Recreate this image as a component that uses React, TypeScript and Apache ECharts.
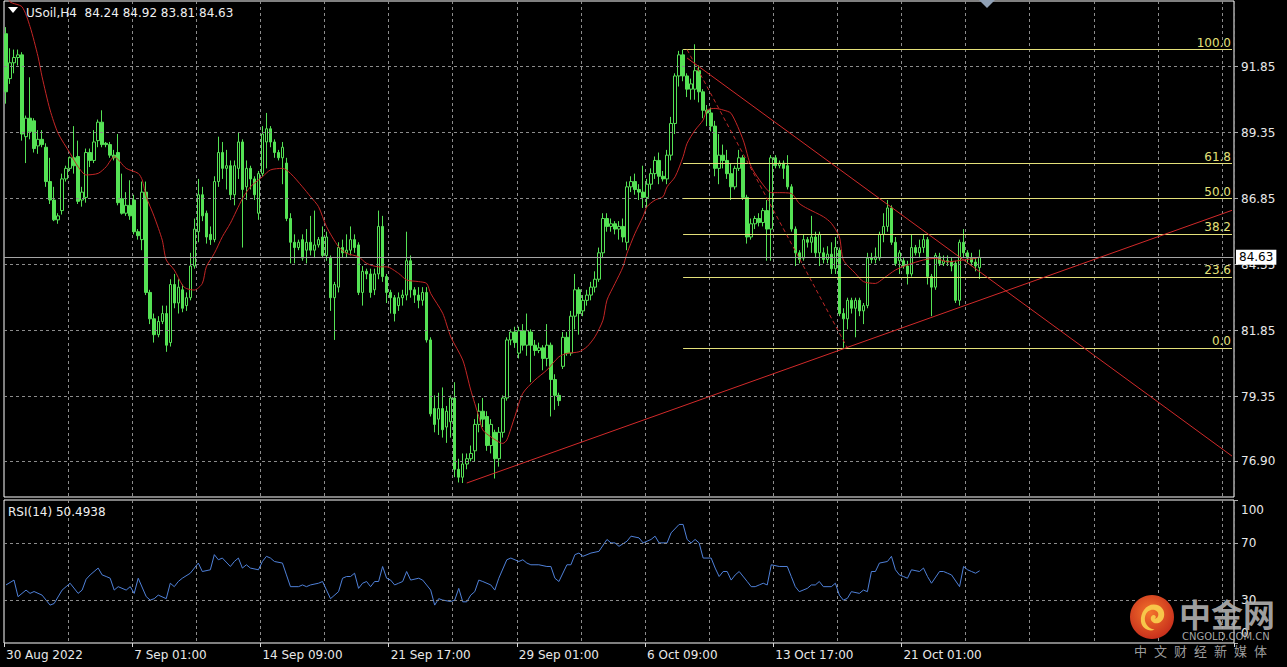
import React, { useEffect, useRef } from "react";
import * as echarts from "echarts";

// ---------- texts ----------
const SYMBOL_TITLE = "USoil,H4  84.24 84.92 83.81 84.63";
const RSI_TITLE = "RSI(14) 50.4938";

// ---------- price bars: [open, high, low, close] ----------
const CANDLES_OHLC: [number, number, number, number][] = [
  [93.1, 93.35, 90.45, 90.9], [91.4, 92.55, 91.2, 92.0], [92.0, 92.5, 91.6, 92.2], [92.2, 92.5, 91.9, 92.3],
  [92.3, 92.4, 89.05, 89.3], [89.2, 90.0, 88.2, 89.9], [89.9, 91.45, 89.1, 89.4], [89.8, 89.9, 88.6, 88.75],
  [88.85, 89.45, 88.55, 89.1], [89.1, 89.45, 88.8, 88.9], [88.8, 88.95, 87.3, 87.5], [87.5, 88.4, 86.65, 86.8],
  [86.8, 87.3, 86.0, 86.05], [86.05, 86.3, 85.9, 86.2], [86.4, 87.8, 86.25, 87.6], [87.6, 88.1, 87.5, 88.0],
  [88.0, 88.45, 87.9, 88.4], [88.4, 89.6, 87.8, 88.1], [88.45, 89.05, 86.65, 86.75], [86.8, 87.3, 86.55, 87.1],
  [86.9, 88.75, 86.7, 88.6], [88.6, 88.75, 88.05, 88.3], [88.3, 89.45, 88.2, 89.0], [89.05, 89.85, 88.8, 89.75],
  [89.75, 90.2, 88.8, 88.9], [88.95, 89.0, 88.8, 88.9], [88.9, 89.0, 88.4, 88.5], [88.5, 88.7, 88.3, 88.4],
  [88.6, 89.3, 86.6, 86.7], [86.85, 87.8, 86.25, 86.3], [86.3, 87.1, 86.2, 86.6], [86.6, 87.55, 86.05, 86.2],
  [86.8, 87.0, 85.5, 85.6], [85.6, 85.7, 85.3, 85.45], [85.3, 87.5, 84.9, 87.1], [87.1, 87.5, 83.2, 83.3],
  [83.3, 83.4, 82.1, 82.3], [82.3, 82.5, 81.4, 81.7], [81.7, 82.4, 81.6, 82.2], [82.2, 82.8, 82.1, 82.5],
  [82.5, 82.8, 81.05, 81.3], [81.4, 83.8, 81.25, 83.6], [83.6, 84.0, 82.7, 82.9], [82.9, 83.8, 82.5, 83.5],
  [83.4, 83.6, 82.55, 82.7], [82.8, 83.3, 82.6, 83.1], [83.1, 84.8, 83.0, 84.3], [84.3, 86.1, 84.2, 85.7],
  [85.6, 87.6, 85.2, 87.0], [87.0, 87.3, 86.0, 86.2], [86.3, 86.4, 85.15, 85.4], [85.5, 85.8, 85.1, 85.3],
  [85.3, 87.7, 85.2, 87.5], [87.5, 89.2, 87.3, 88.6], [88.6, 89.0, 87.6, 88.0], [88.0, 88.7, 87.2, 88.1],
  [88.1, 88.3, 86.8, 87.0], [87.0, 88.3, 86.6, 88.1], [88.0, 89.35, 87.6, 89.0], [89.0, 89.1, 85.0, 87.2],
  [87.3, 88.3, 86.8, 88.0], [88.0, 88.1, 87.2, 87.6], [87.6, 87.7, 86.8, 87.0], [86.3, 87.9, 86.05, 87.8],
  [87.8, 89.6, 87.7, 89.3], [89.0, 90.1, 88.0, 89.5], [89.5, 89.6, 88.8, 89.0], [89.0, 89.1, 88.4, 88.6],
  [88.6, 88.7, 88.3, 88.4], [88.4, 89.0, 87.4, 88.8], [88.2, 88.4, 86.0, 86.1], [86.1, 86.3, 84.4, 85.2],
  [85.2, 85.5, 84.4, 85.0], [85.0, 85.3, 84.9, 85.2], [85.3, 85.5, 84.5, 84.6], [84.9, 85.7, 84.4, 85.2],
  [85.2, 86.2, 84.7, 84.9], [84.9, 86.4, 84.6, 85.1], [85.1, 85.4, 85.0, 85.3], [85.4, 85.8, 84.6, 84.7],
  [84.7, 85.6, 84.5, 85.4], [84.6, 84.7, 82.6, 83.1], [83.1, 83.7, 81.5, 83.6], [83.5, 85.2, 83.3, 85.0],
  [85.0, 85.3, 84.6, 84.8], [84.8, 85.5, 84.6, 84.9], [84.9, 85.8, 84.7, 85.3], [85.3, 85.5, 84.8, 85.0],
  [85.1, 85.2, 83.2, 83.3], [83.3, 84.3, 82.8, 84.1], [84.1, 84.2, 83.8, 84.0], [84.0, 84.2, 83.1, 83.3],
  [83.4, 84.2, 83.2, 84.0], [84.0, 86.4, 83.8, 85.8], [85.8, 86.2, 83.7, 83.9], [83.9, 84.0, 82.9, 83.3],
  [83.3, 83.4, 82.5, 83.1], [83.1, 83.2, 82.2, 82.5], [82.8, 83.3, 82.6, 83.1], [83.1, 83.4, 82.8, 83.2],
  [83.2, 85.6, 83.0, 84.5], [84.5, 84.7, 83.1, 83.4], [83.4, 83.5, 82.9, 83.2], [83.2, 83.5, 82.7, 83.0],
  [83.0, 83.5, 82.8, 83.3], [83.3, 83.5, 81.4, 81.5], [81.5, 81.6, 78.6, 78.7], [78.9, 79.4, 78.0, 78.3],
  [78.5, 79.5, 77.9, 78.9], [78.9, 79.7, 77.8, 78.1], [78.2, 79.0, 77.6, 78.8], [78.4, 79.4, 77.8, 79.3],
  [79.3, 79.9, 76.3, 76.6], [76.6, 77.0, 76.1, 76.3], [76.3, 77.2, 76.08, 76.8], [76.8, 77.2, 76.6, 77.0],
  [77.0, 77.5, 76.9, 77.2], [77.3, 78.5, 76.9, 78.3], [78.3, 79.1, 78.0, 78.8], [78.8, 79.3, 78.2, 78.5],
  [78.6, 78.8, 77.3, 77.5], [77.5, 78.5, 77.2, 78.3], [78.0, 78.1, 76.25, 77.0], [77.0, 78.2, 76.7, 78.0],
  [78.0, 79.4, 77.8, 79.3], [79.3, 81.6, 79.2, 81.5], [81.5, 81.9, 81.3, 81.8], [81.8, 82.0, 81.2, 81.4],
  [81.0, 82.0, 80.8, 81.85], [81.85, 82.1, 81.1, 81.3], [81.3, 82.5, 80.9, 81.85], [81.8, 81.9, 79.9, 81.3],
  [81.3, 81.5, 80.9, 81.1], [81.1, 81.4, 81.0, 81.2], [81.2, 81.3, 80.35, 80.8], [80.8, 82.1, 80.5, 81.3],
  [81.3, 81.4, 78.6, 80.0], [80.0, 80.2, 78.85, 79.4], [79.4, 79.5, 79.0, 79.2], [80.5, 81.8, 80.4, 81.6],
  [81.6, 81.8, 80.9, 81.0], [81.0, 82.6, 80.9, 82.4], [82.4, 84.0, 81.9, 83.4], [83.4, 83.5, 81.7, 82.5],
  [82.6, 83.2, 82.4, 83.0], [83.0, 83.4, 82.8, 83.2], [83.2, 83.7, 83.0, 83.5], [83.5, 84.1, 83.3, 83.8],
  [83.8, 85.0, 83.7, 84.8], [84.8, 86.3, 84.6, 86.1], [86.1, 86.3, 85.6, 85.8], [85.8, 86.1, 85.6, 85.9],
  [85.9, 86.0, 85.5, 85.7], [85.7, 86.0, 85.3, 85.8], [85.8, 86.1, 85.2, 85.4], [85.2, 87.5, 84.9, 87.3],
  [87.3, 87.7, 87.1, 87.5], [87.5, 87.8, 87.0, 87.2], [87.2, 87.4, 86.8, 87.1], [87.1, 88.1, 86.5, 86.9],
  [86.9, 87.6, 86.5, 87.4], [87.4, 88.0, 87.2, 87.8], [87.8, 88.45, 87.6, 88.3], [88.3, 88.6, 87.4, 87.7],
  [87.7, 87.9, 87.5, 87.6], [87.6, 88.7, 87.4, 88.5], [88.5, 89.95, 88.3, 89.7], [89.7, 91.6, 89.3, 91.5],
  [91.5, 92.45, 91.1, 92.3], [92.3, 92.5, 91.3, 91.5], [91.5, 91.6, 90.7, 91.0], [91.0, 91.4, 90.6, 91.2],
  [91.0, 92.7, 90.6, 91.7], [91.7, 91.9, 90.5, 90.9], [90.9, 91.0, 89.9, 90.2], [90.2, 90.4, 89.6, 90.1],
  [90.1, 90.3, 89.4, 89.6], [89.6, 89.8, 87.7, 88.0], [88.0, 89.3, 87.4, 88.5], [88.5, 88.9, 88.0, 88.3],
  [88.3, 88.7, 87.6, 87.8], [87.8, 88.2, 86.8, 87.3], [87.3, 88.1, 87.2, 88.0], [88.0, 88.7, 87.9, 88.4],
  [88.4, 88.5, 86.8, 86.9], [86.9, 87.0, 85.15, 85.4], [85.4, 86.1, 85.3, 85.9], [85.9, 86.2, 85.7, 86.1],
  [86.1, 86.3, 85.8, 85.95], [85.95, 86.5, 85.8, 86.4], [86.4, 86.8, 84.5, 85.7], [85.7, 88.5, 84.5, 88.4],
  [88.4, 88.5, 88.0, 88.1], [88.1, 88.3, 88.0, 88.2], [88.2, 88.3, 87.6, 88.0], [88.1, 88.5, 87.2, 87.3],
  [87.3, 87.4, 85.6, 85.7], [85.7, 85.8, 84.3, 84.8], [84.8, 84.9, 84.4, 84.55], [84.6, 85.5, 84.5, 85.3],
  [85.3, 85.4, 85.0, 85.2], [85.2, 86.2, 84.8, 85.4], [85.4, 85.6, 84.6, 84.8], [84.8, 85.6, 84.3, 85.5],
  [84.8, 85.0, 84.4, 84.55], [84.55, 85.05, 84.4, 84.75], [84.75, 85.2, 84.0, 84.2], [84.2, 85.4, 84.0, 85.0],
  [84.9, 85.0, 82.4, 82.5], [82.5, 82.7, 81.2, 82.3], [82.3, 83.1, 81.9, 83.0], [83.0, 83.1, 82.5, 82.7],
  [82.7, 83.1, 81.6, 83.0], [83.0, 83.1, 82.4, 82.6], [82.6, 82.9, 82.1, 82.8], [82.8, 84.8, 82.7, 84.6],
  [84.6, 84.8, 84.4, 84.55], [84.55, 85.0, 84.4, 84.65], [84.6, 85.6, 84.5, 85.5], [85.5, 86.3, 85.2, 85.8],
  [85.8, 86.8, 85.6, 86.5], [86.5, 86.6, 85.1, 85.2], [85.2, 85.4, 84.3, 84.4], [84.5, 84.9, 84.0, 84.8],
  [84.5, 84.6, 84.2, 84.3], [84.3, 84.5, 83.6, 84.0], [84.0, 85.5, 83.9, 85.0], [85.0, 85.1, 84.7, 84.8],
  [84.8, 85.3, 84.6, 85.0], [85.0, 85.5, 84.8, 85.3], [85.3, 85.4, 83.6, 83.9], [83.9, 84.0, 82.4, 83.5],
  [83.5, 84.8, 83.4, 84.7], [84.65, 84.8, 84.3, 84.4], [84.4, 84.7, 84.3, 84.5], [84.5, 84.7, 84.3, 84.45],
  [84.45, 84.6, 84.1, 84.3], [84.4, 84.5, 82.9, 83.0], [83.0, 85.3, 82.8, 85.2], [85.2, 85.7, 84.6, 84.8],
  [84.8, 84.9, 84.4, 84.6], [84.6, 84.8, 84.3, 84.45], [84.45, 84.6, 84.1, 84.3], [84.24, 84.92, 83.81, 84.63],
];

// moving average: [bar index, price]
const MA_POINTS: [number, number][] = [
  [0, 94.7], [1, 94.31], [4, 94.12], [6, 93.37], [8, 92.23], [9, 91.47], [11, 90.21], [13, 89.33],
  [16, 88.57], [18, 88.06], [20, 87.75], [23, 87.81], [25, 88.06], [27, 88.44], [30, 88.0], [33, 87.81],
  [34, 87.56], [35, 86.93], [37, 86.17], [39, 85.28], [40, 84.53], [42, 84.15], [44, 83.58], [45, 83.45],
  [47, 83.39], [49, 83.64], [50, 84.27], [52, 84.78], [54, 85.41], [56, 85.92], [59, 86.85], [61, 87.3],
  [64, 87.68], [66, 87.94], [69, 88.0], [71, 87.81], [74, 87.3], [76, 86.93], [78, 86.55], [80, 85.79],
  [83, 85.03], [85, 84.78], [88, 84.65], [90, 84.4], [93, 84.27], [95, 84.27], [98, 84.02], [100, 83.77],
  [103, 83.71], [105, 83.64], [106, 83.26], [109, 82.51], [111, 81.62], [114, 80.74], [116, 79.6], [118, 78.6],
  [119, 78.09], [121, 77.83], [124, 77.58], [125, 77.71], [127, 78.6], [129, 79.48], [132, 79.98], [135, 80.36],
  [138, 80.86], [140, 80.99], [143, 81.05], [145, 81.24], [147, 81.62], [149, 82.25], [150, 83.01], [152, 83.64],
  [154, 84.27], [155, 84.78], [157, 85.54], [159, 86.17], [160, 86.55], [162, 86.8], [164, 86.93], [165, 87.3],
  [167, 87.68], [169, 88.44], [170, 88.95], [172, 89.45], [174, 89.83], [175, 90.21], [177, 90.27], [179, 90.21],
  [181, 90.08], [184, 89.07], [186, 88.06], [189, 87.37], [191, 87.08], [193, 87.08], [196, 87.05], [198, 86.67],
  [200, 86.48], [204, 86.17], [206, 85.92], [208, 85.41], [209, 84.53], [212, 84.02], [214, 83.71], [217, 83.64],
  [219, 83.83], [222, 84.15], [225, 84.34], [229, 84.53], [232, 84.59], [235, 84.46], [239, 84.53], [242, 84.59],
  [243, 84.65],
];

// RSI(14): [bar index, value]
const RSI_POINTS: [number, number][] = [
  [0, 40.6], [2, 44], [3, 32.4], [5, 37], [6, 34.7], [7, 36], [9, 33.5], [10, 30], [11, 26.5], [12, 27.6],
  [14, 37], [15, 39.4], [16, 41.8], [18, 34.7], [19, 37], [20, 44.6], [21, 47.6], [23, 52.4], [24, 47.6],
  [25, 46.5], [26, 45.3], [27, 37], [28, 39.4], [30, 37], [31, 39.4], [32, 34.7], [33, 45.3], [35, 32.4],
  [36, 30], [37, 31], [38, 33.5], [40, 31], [41, 41.8], [42, 39.4], [43, 43], [44, 45.3], [46, 48.8],
  [48, 55.9], [49, 50], [51, 51.2], [52, 61.8], [53, 58.2], [54, 59.4], [56, 53.5], [57, 57], [58, 59.4],
  [59, 52.4], [60, 54.7], [61, 52.4], [63, 51.2], [64, 57], [65, 60.6], [66, 59.4], [67, 57], [69, 55.9],
  [70, 47.6], [71, 39.4], [73, 39.4], [74, 40.6], [75, 39.4], [76, 40.6], [78, 41.8], [79, 43], [80, 37],
  [81, 31], [83, 35.9], [84, 45.3], [85, 46.5], [86, 46.5], [87, 48.8], [88, 38.2], [89, 41.8], [90, 43],
  [91, 39.4], [92, 43], [93, 43], [94, 53.5], [95, 45.3], [96, 44], [97, 40.6], [98, 41.8], [99, 43],
  [100, 50], [101, 44], [103, 45.3], [104, 44], [106, 37], [107, 26.5], [108, 31], [109, 30], [111, 29],
  [112, 30], [113, 38.2], [114, 28.8], [115, 28.8], [116, 33.5], [117, 35.9], [118, 44], [119, 43],
  [121, 40.6], [122, 37], [123, 45.3], [125, 58.2], [126, 59.4], [128, 57], [129, 58.2], [130, 55.9],
  [131, 54.7], [133, 54.7], [135, 53.5], [136, 53.5], [137, 45.3], [138, 43], [140, 54.7], [141, 54.7],
  [142, 61.8], [143, 62.9], [144, 60.6], [146, 62.9], [148, 64.1], [150, 72.4], [151, 70], [152, 70],
  [153, 67.6], [155, 71.2], [156, 74.7], [158, 73.5], [159, 70], [161, 72.4], [162, 74.7], [163, 70],
  [165, 70], [166, 77], [168, 82.9], [169, 82.9], [170, 72.4], [171, 70], [172, 72.4], [173, 70],
  [174, 59.4], [176, 59.4], [177, 52.4], [178, 46.5], [179, 50], [180, 50], [181, 44], [182, 47.6],
  [183, 50], [185, 43], [186, 39.4], [187, 39.4], [188, 40.6], [189, 41.8], [190, 40.6], [191, 54.7],
  [193, 53.5], [195, 53.5], [196, 46.5], [197, 39.4], [198, 35.9], [200, 38.2], [201, 40.6], [202, 40.6],
  [203, 43], [204, 39.4], [206, 39.4], [207, 41.8], [208, 33.5], [209, 30], [210, 31.2], [211, 35.9],
  [213, 34.7], [214, 37], [215, 35.9], [216, 50], [217, 50], [218, 55.9], [220, 57], [221, 60.6],
  [222, 51.2], [223, 47.6], [224, 46.5], [225, 45.3], [226, 51.2], [228, 50], [229, 52.4], [230, 46.5],
  [231, 41.8], [233, 50], [234, 50], [235, 48.8], [236, 47.6], [238, 39.4], [239, 53.5], [240, 51.2],
  [241, 50], [242, 48.8], [243, 50.49],
];

// time axis
const TOTAL_SLOTS = 307; // bars plus the empty right-hand shift area
const X_LABELS = ["30 Aug 2022", "7 Sep 01:00", "14 Sep 09:00", "21 Sep 17:00", "29 Sep 01:00", "6 Oct 09:00", "13 Oct 17:00", "21 Oct 01:00"];
const X_LABEL_INDEX = [0, 32, 64, 96, 128, 160, 192, 224];
const X_GRID_EVERY = 16;

// price axis
const PRICE_TICKS = [76.9, 79.35, 81.85, 84.35, 86.85, 89.35, 91.85];
const PRICE_MIN = 75.55;
const PRICE_MAX = 94.34;
const LAST_PRICE = 84.63;

// RSI axis
const RSI_TICKS = [0, 30, 70, 100];
const RSI_LEVELS = [30, 70];

// fibonacci retracement & trend lines (anchors as [bar index, price])
const FIB_LEVELS = [0, 23.6, 38.2, 50, 61.8, 100];
const FIB_LOW = 81.2;
const FIB_HIGH = 92.5;
const FIB_START_INDEX = 169;
const FIB_DIAGONAL: [number, number][] = [[170, 92.5], [210, 81.2]];
const TREND_DOWN: [number, number][] = [[170, 92.18], [306, 77.1]];
const TREND_UP: [number, number][] = [[115, 76.08], [306, 86.41]];

// ---------- style ----------
const FONT = '"DejaVu Sans", Verdana, sans-serif';
const GREEN = "#55e255";
const AXIS_TEXT = "#e8e8e8";
const GRID_LINE = { color: "#8c8c8c", type: [3, 3] as number[], width: 1 };
const FIB_COLOR = "#e4e07a";
const RED = "#d22a2a";

const SWIRL_PATH =
  "M22 6 C31 6 36 13 34 20 C32 27 24 29 20 25 C17 22 19 17 23 18 C25 19 25 21 23 22 C27 22 29 17 26 14 C22 10 14 12 12 19 C10 26 15 33 23 34 C17 37 8 33 7 25 C6 15 13 6 22 6 Z";
let swirlRegistered = false;
function registerSwirl() {
  if (swirlRegistered) return;
  echarts.graphic.registerShape("cngoldSwirl", echarts.graphic.extendPath(SWIRL_PATH, {}));
  swirlRegistered = true;
}

export default function App() {
  const ref = useRef<HTMLDivElement | null>(null);

  useEffect(() => {
    if (!ref.current) return;
    registerSwirl();
    const chart = echarts.init(ref.current, null, { renderer: "svg" });

    const categories = Array.from({ length: TOTAL_SLOTS }, (_, i) => "b" + i);
    const labelMap = new Map<number, string>();
    X_LABEL_INDEX.forEach((idx, k) => labelMap.set(idx, X_LABELS[k]));
    const lastSlot = TOTAL_SLOTS - 1;

    const candleData = CANDLES_OHLC.map(([o, h, l, c]) => [o, c, l, h]);

    const fibLines = FIB_LEVELS.map((lvl) => {
      const price = FIB_LOW + ((FIB_HIGH - FIB_LOW) * lvl) / 100;
      return [
        {
          coord: [FIB_START_INDEX, price],
          lineStyle: { color: FIB_COLOR, type: "solid", width: 1 },
          label: {
            show: true,
            formatter: lvl.toFixed(1),
            position: "insideEndTop",
            color: FIB_COLOR,
            fontSize: 12,
            fontFamily: FONT,
            distance: [1, 1],
          },
        },
        { coord: [lastSlot, price] },
      ];
    });

    const trendLines = [
      [
        { coord: TREND_DOWN[0], lineStyle: { color: RED, width: 1, type: "solid" } },
        { coord: TREND_DOWN[1] },
      ],
      [
        { coord: TREND_UP[0], lineStyle: { color: RED, width: 1, type: "solid" } },
        { coord: TREND_UP[1] },
      ],
      [
        { coord: FIB_DIAGONAL[0], lineStyle: { color: "#c02828", width: 1, type: [4, 3] } },
        { coord: FIB_DIAGONAL[1] },
      ],
    ];

    const xBase = {
      type: "category",
      data: categories,
      boundaryGap: true,
      axisLine: { show: false },
      splitLine: {
        show: true,
        interval: (i: number) => i > 0 && i % X_GRID_EVERY === 0,
        lineStyle: GRID_LINE,
      },
    };

    const option: any = {
      animation: false,
      backgroundColor: "#000000",
      textStyle: { fontFamily: FONT },
      grid: [
        { left: 4, top: 1, width: 1230, height: 496, show: true, borderColor: "#ffffff", borderWidth: 1, backgroundColor: "transparent" },
        { left: 4, top: 500, width: 1230, height: 143, show: true, borderColor: "#ffffff", borderWidth: 1, backgroundColor: "transparent" },
      ],
      xAxis: [
        { ...xBase, gridIndex: 0, axisTick: { show: false }, axisLabel: { show: false } },
        {
          ...xBase,
          gridIndex: 1,
          axisTick: {
            show: true,
            interval: (i: number) => labelMap.has(i),
            length: 4,
            lineStyle: { color: "#d8d8d8" },
          },
          axisLabel: {
            show: true,
            interval: (i: number) => labelMap.has(i),
            formatter: (_v: string, i: number) => labelMap.get(i) ?? "",
            color: AXIS_TEXT,
            fontSize: 12,
            fontFamily: FONT,
            align: "left",
            margin: 6,
          },
        },
      ],
      yAxis: [
        {
          type: "value",
          gridIndex: 0,
          position: "right",
          min: PRICE_MIN,
          max: PRICE_MAX,
          axisLine: { show: false },
          axisTick: { show: true, customValues: PRICE_TICKS, length: 4, lineStyle: { color: "#aaaaaa" } },
          axisLabel: {
            customValues: PRICE_TICKS,
            formatter: (v: number) => v.toFixed(2),
            color: AXIS_TEXT,
            fontSize: 12,
            fontFamily: FONT,
            margin: 7,
          },
          splitLine: { show: false },
        },
        {
          type: "value",
          gridIndex: 1,
          position: "right",
          min: 0,
          max: 100,
          axisLine: { show: false },
          axisTick: { show: true, customValues: RSI_TICKS, length: 4, lineStyle: { color: "#aaaaaa" } },
          axisLabel: {
            customValues: RSI_TICKS,
            formatter: (v: number) => (v === 100 ? "{top|100}" : v === 0 ? "{bot|0}" : String(v)),
            color: AXIS_TEXT,
            fontSize: 12,
            fontFamily: FONT,
            margin: 7,
            rich: {
              top: { padding: [20, 0, 0, 0], color: AXIS_TEXT, fontSize: 12, fontFamily: FONT },
              bot: { padding: [0, 0, 20, 0], color: AXIS_TEXT, fontSize: 12, fontFamily: FONT },
            },
          },
          splitLine: { show: false },
        },
      ],
      series: [
        {
          name: "grid",
          type: "line",
          xAxisIndex: 0,
          yAxisIndex: 0,
          data: [],
          z: 1,
          silent: true,
          markLine: {
            silent: true,
            symbol: ["none", "none"],
            label: { show: false },
            lineStyle: GRID_LINE,
            data: [
              ...PRICE_TICKS.map((v) => ({ yAxis: v })),
              {
                yAxis: LAST_PRICE,
                lineStyle: { color: "#a6a6a6", type: "solid", width: 1 },
                label: {
                  show: true,
                  position: "end",
                  formatter: LAST_PRICE.toFixed(2),
                  backgroundColor: "#ffffff",
                  color: "#000000",
                  fontSize: 12,
                  fontFamily: FONT,
                  padding: [2, 3, 1, 3],
                  distance: 2,
                },
              },
            ],
          },
        },
        {
          name: "USoil",
          type: "candlestick",
          xAxisIndex: 0,
          yAxisIndex: 0,
          data: candleData,
          barWidth: 3,
          z: 3,
          itemStyle: {
            color: "#000000",
            color0: GREEN,
            borderColor: GREEN,
            borderColor0: GREEN,
            borderWidth: 1,
          },
        },
        {
          name: "MA",
          type: "line",
          xAxisIndex: 0,
          yAxisIndex: 0,
          data: MA_POINTS,
          symbol: "none",
          smooth: 0.25,
          z: 4,
          lineStyle: { color: "#c42626", width: 1 },
        },
        {
          name: "drawings",
          type: "line",
          xAxisIndex: 0,
          yAxisIndex: 0,
          data: [],
          z: 4,
          silent: true,
          markLine: {
            silent: true,
            symbol: ["none", "none"],
            label: { show: false },
            data: [...fibLines, ...trendLines],
          },
        },
        {
          name: "rsiLevels",
          type: "line",
          xAxisIndex: 1,
          yAxisIndex: 1,
          data: [],
          z: 1,
          silent: true,
          markLine: {
            silent: true,
            symbol: ["none", "none"],
            label: { show: false },
            lineStyle: GRID_LINE,
            data: RSI_LEVELS.map((v) => ({ yAxis: v })),
          },
        },
        {
          name: "RSI",
          type: "line",
          xAxisIndex: 1,
          yAxisIndex: 1,
          data: RSI_POINTS,
          symbol: "none",
          z: 3,
          lineStyle: { color: "#4f80d8", width: 1 },
        },
      ],
      graphic: [
        { type: "polygon", z: 50, shape: { points: [[8, 7], [18, 7], [13, 13]] }, style: { fill: "#ffffff" } },
        {
          type: "text",
          z: 50,
          x: 26,
          y: 13,
          style: { text: SYMBOL_TITLE, fill: "#f0f0f0", font: `12px ${FONT}`, verticalAlign: "middle" },
        },
        {
          type: "text",
          z: 50,
          x: 8,
          y: 512,
          style: { text: RSI_TITLE, fill: "#f0f0f0", font: `12px ${FONT}`, verticalAlign: "middle" },
        },
        { type: "polygon", z: 50, shape: { points: [[979, 0], [995, 0], [987, 8]] }, style: { fill: "#8fa0b5" } },
        // watermark
        {
          type: "group",
          z: 100,
          children: [
            {
              type: "circle",
              z: 100,
              shape: { cx: 1152, cy: 617, r: 22 },
              style: {
                fill: new echarts.graphic.RadialGradient(0.45, 0.4, 0.6, [
                  { offset: 0, color: "#f4742c" },
                  { offset: 1, color: "#c8301c" },
                ]),
              },
            },
            { type: "cngoldSwirl", z: 101, x: 1135, y: 599, scaleX: 0.85, scaleY: 0.9, style: { fill: "#f7c64a" } },
            {
              type: "text",
              z: 101,
              x: 1179,
              y: 613,
              style: {
                text: "中金网",
                fill: "rgba(175,175,175,0.92)",
                font: 'bold 32px "Noto Sans CJK SC"',
                verticalAlign: "middle",
              },
            },
            {
              type: "text",
              z: 101,
              x: 1182,
              y: 636,
              style: { text: "CNGOLD.COM.CN", fill: "rgba(185,185,185,0.9)", font: `10px ${FONT}`, verticalAlign: "middle" },
            },
            ...["中", "文", "财", "经", "新", "媒", "体"].map((ch, k) => ({
              type: "text",
              z: 101,
              x: 1134 + k * 20,
              y: 650,
              style: { text: ch, fill: "rgba(175,175,175,0.9)", font: '13px "Noto Sans CJK SC"', verticalAlign: "middle" },
            })),
          ],
        },
      ],
    };

    chart.setOption(option);
    return () => chart.dispose();
  }, []);

  return (
    <div
      ref={ref}
      style={{ position: "fixed", left: 0, top: 0, width: 1287, height: 667, background: "#000000" }}
    />
  );
}
